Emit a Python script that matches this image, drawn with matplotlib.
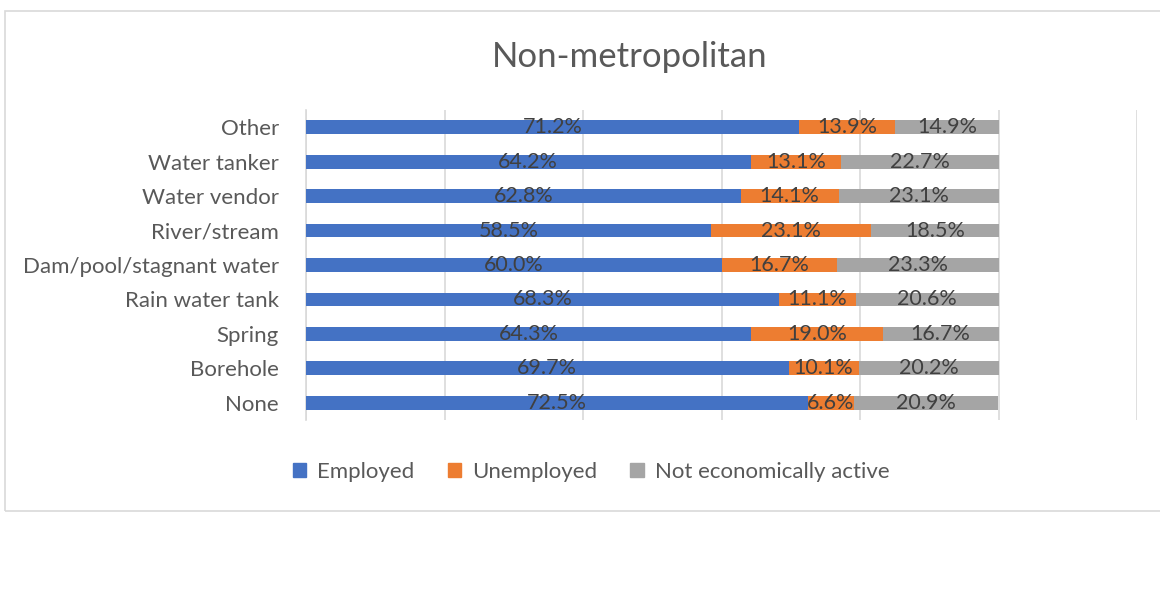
import matplotlib
matplotlib.use("Agg")
import matplotlib.pyplot as plt
from matplotlib.patches import Rectangle, Patch

categories = ["Other", "Water tanker", "Water vendor", "River/stream",
              "Dam/pool/stagnant water", "Rain water tank", "Spring",
              "Borehole", "None"]
employed = [71.2, 64.2, 62.8, 58.5, 60.0, 68.3, 64.3, 69.7, 72.5]
unemployed = [13.9, 13.1, 14.1, 23.1, 16.7, 11.1, 19.0, 10.1, 6.6]
not_active = [14.9, 22.7, 23.1, 18.5, 23.3, 20.6, 16.7, 20.2, 20.9]
series_names = ["Employed", "Unemployed", "Not economically active"]
colors = ["#4472C4", "#ED7D31", "#A5A5A5"]

plt.rcParams['font.family'] = ['Lato', 'DejaVu Sans']

W, H = 1160, 596
fig = plt.figure(figsize=(W / 100, H / 100), dpi=100)

# chart frame
fig.patches.append(Rectangle((5 / W, 1 - 511 / H), (W + 10) / W, (511 - 11) / H,
                             transform=fig.transFigure, fill=False,
                             edgecolor="#D9D9D9", linewidth=1.2))

ax = fig.add_axes([306 / W, 1 - 420 / H, (1137 - 306) / W, (420 - 110) / H])
n = len(categories)
ypos = list(range(n - 1, -1, -1))
left = [0.0] * n
for vals, col, name in zip([employed, unemployed, not_active], colors, series_names):
    ax.barh(ypos, vals, left=left, height=0.4, color=col, label=name, zorder=3)
    for y, v, l in zip(ypos, vals, left):
        ax.text(l + v / 2, y, f"{v:.1f}%", ha="center", va="center",
                fontsize=15.5, color="#404040", zorder=4)
    left = [a + b for a, b in zip(left, vals)]

ax.set_xlim(0, 120)
ax.set_ylim(-0.5, n - 0.5)
ax.set_xticks(range(0, 121, 20))
ax.xaxis.grid(True, color="#D9D9D9", linewidth=1.2, zorder=0)
ax.tick_params(axis="x", bottom=False, labelbottom=False)
ax.tick_params(axis="y", left=False, labelsize=16, labelcolor="#595959", pad=16)
ax.set_yticks(ypos)
ax.set_yticklabels(categories)
for s in ["top", "right", "bottom"]:
    ax.spines[s].set_visible(False)
ax.spines["left"].set_color("#D9D9D9")
ax.spines["left"].set_linewidth(1.2)

fig.text(630 / W, 1 - 57 / H, "Non-metropolitan", ha="center", va="center",
         fontsize=25, color="#595959")

handles = [Patch(color=c, label=nm) for c, nm in zip(colors, series_names)]
fig.legend(handles=handles, loc="center", bbox_to_anchor=(591 / W, 1 - 472 / H),
           ncol=3, frameon=False, fontsize=16, labelcolor="#595959",
           handlelength=0.6, handleheight=0.6, handletextpad=0.5, columnspacing=1.5)

fig.savefig("out.png", dpi=100)
